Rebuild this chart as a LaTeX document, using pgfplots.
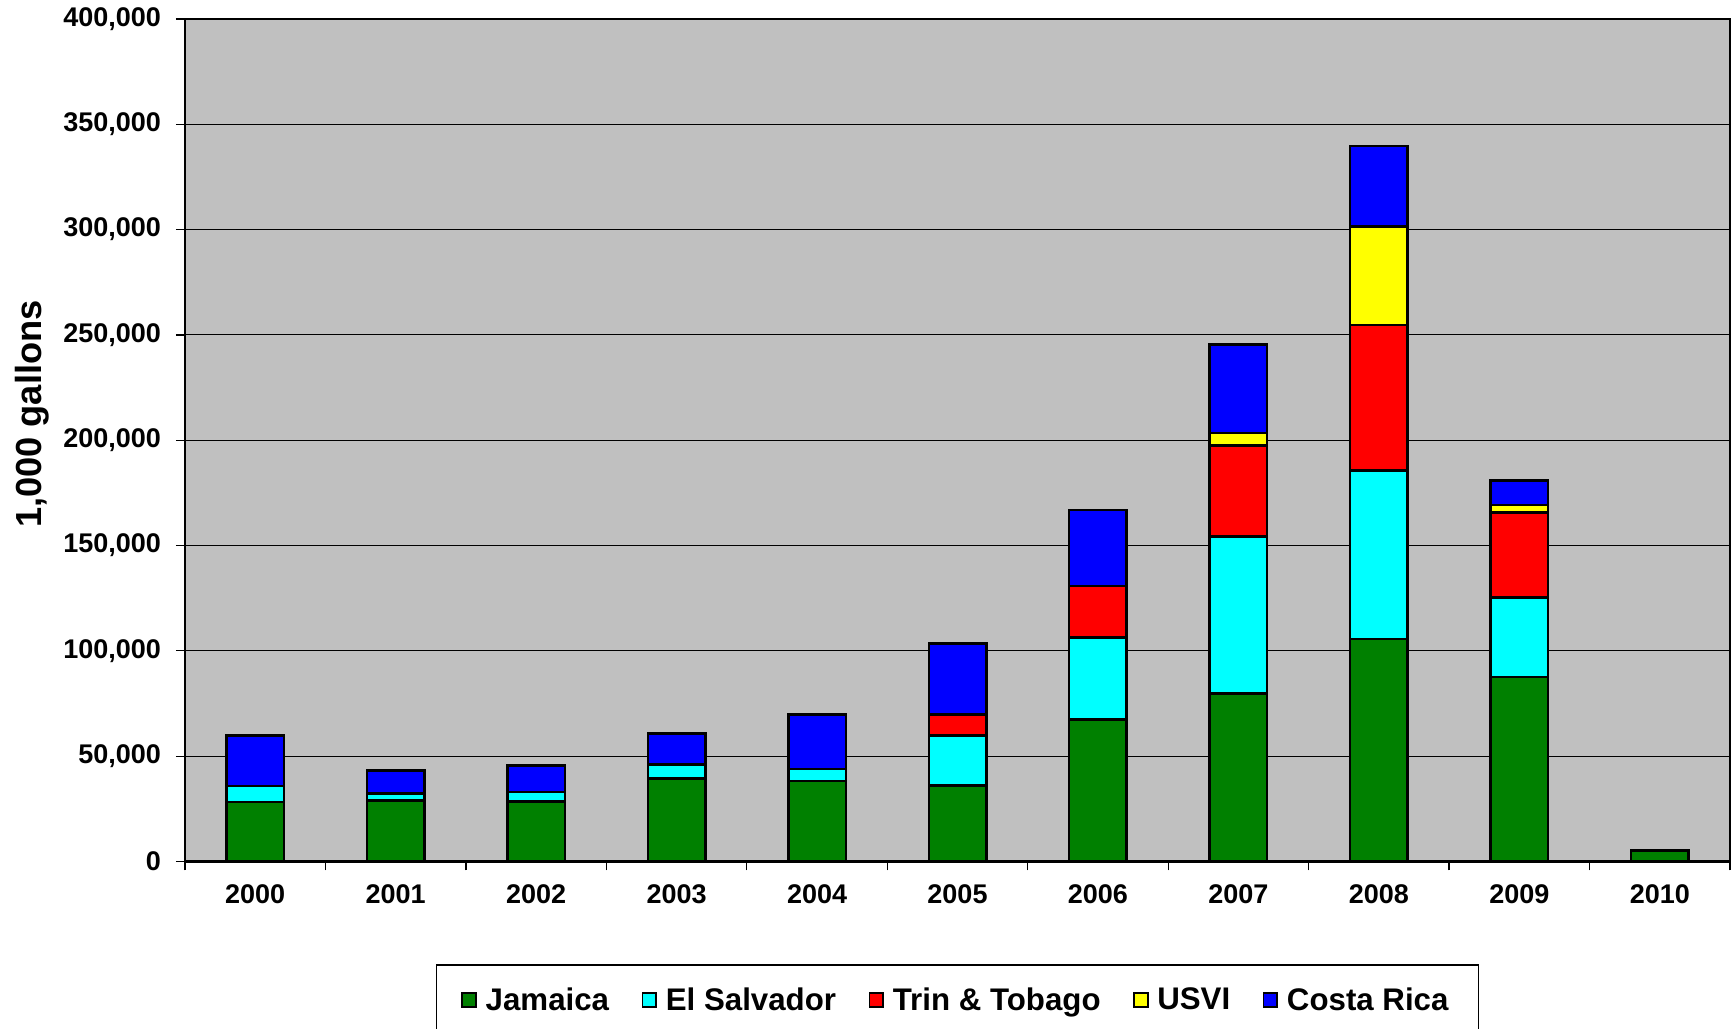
\documentclass[border=0pt]{standalone}
\usepackage{pgfplots}
\pgfplotsset{compat=1.18}
\usepackage{fontspec}
\setmainfont{Liberation Sans}
\definecolor{jam}{HTML}{008000}
\definecolor{els}{HTML}{00FFFF}
\definecolor{tnt}{HTML}{FF0000}
\definecolor{usv}{HTML}{FFFF00}
\definecolor{cri}{HTML}{0000FF}
\definecolor{plotbg}{HTML}{C0C0C0}
\begin{document}
\begin{tikzpicture}
\begin{axis}[
  at={(0pt,0pt)},anchor=south west,
  scale only axis,width=618pt,height=337pt,
  ybar stacked,bar width=23pt,
  xmin=-0.5,xmax=10.5,ymin=0,ymax=400000,
  ytick={0,50000,100000,150000,200000,250000,300000,350000,400000},
  yticklabels={0,{50,000},{100,000},{150,000},{200,000},{250,000},{300,000},{350,000},{400,000}},
  scaled y ticks=false,
  xtick={0,...,10},
  xticklabels={2000,2001,2002,2003,2004,2005,2006,2007,2008,2009,2010},
  minor xtick={-0.5,0.5,...,10.5},
  major x tick style={draw=none},
  tick pos=left,tick align=outside,
  major tick length=3.6pt,minor tick length=3.6pt,
  tick style={black,line width=0.5pt},
  ymajorgrids,major grid style={black,line width=0.45pt},
  axis line style={black,line width=0.9pt},
  axis background/.style={fill=plotbg},
  tick label style={font=\bfseries\fontsize{10.8}{13}\selectfont},
  yticklabel style={xshift=-2.5pt},
  xticklabel style={yshift=-2.2pt},
  ylabel={1,000 gallons},
  ylabel style={font=\bfseries\fontsize{14.5}{17}\selectfont,
    at={(axis description cs:-0.099,0.531)},anchor=center},
  legend columns=-1,
  legend image code/.code={\draw[#1,draw=black,line width=0.7pt] (0pt,-2.6pt) rectangle (5.5pt,3pt);},
  legend style={at={(0.5,-0.1222)},anchor=north,draw=black,line width=0.5pt,
    fill=white,inner xsep=10pt,inner ysep=7pt,
    font=\bfseries\fontsize{12.5}{15}\selectfont,
    /tikz/every even column/.append style={column sep=11pt},
    /tikz/every odd column/.append style={column sep=1.5pt}},
]
\addplot[fill=jam,draw=black,line width=1pt] coordinates {(0,28200) (1,29000) (2,28400) (3,39300) (4,38300) (5,36100) (6,67500) (7,79700) (8,105600) (9,87600) (10,5200)};
\addlegendentry{Jamaica}
\addplot[fill=els,draw=black,line width=1pt] coordinates {(0,7600) (1,3200) (2,4700) (3,6800) (4,5700) (5,23700) (6,38800) (7,74700) (8,80000) (9,37800) (10,0)};
\addlegendentry{El Salvador}
\addplot[fill=tnt,draw=black,line width=1pt] coordinates {(0,0) (1,0) (2,0) (3,0) (4,0) (5,9900) (6,24500) (7,43100) (8,69100) (9,40400) (10,0)};
\addlegendentry{Trin \& Tobago}
\addplot[fill=usv,draw=black,line width=1pt] coordinates {(0,0) (1,0) (2,0) (3,0) (4,0) (5,0) (6,0) (7,5900) (8,46700) (9,3400) (10,0)};
\addlegendentry{USVI}
\addplot[fill=cri,draw=black,line width=1pt] coordinates {(0,24100) (1,11000) (2,12500) (3,14600) (4,25700) (5,33900) (6,36100) (7,42000) (8,38300) (9,11600) (10,0)};
\addlegendentry{Costa Rica}
\end{axis}
\pgfresetboundingbox
\path[use as bounding box] (-74pt,-66.8pt) rectangle (619.2pt,344.6pt);
\end{tikzpicture}
\end{document}
